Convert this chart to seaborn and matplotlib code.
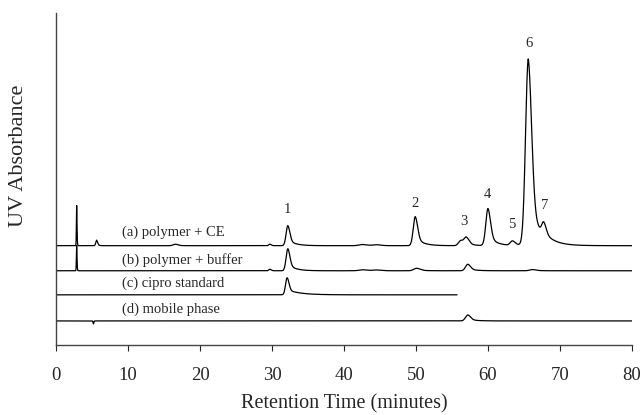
import numpy as np
import pandas as pd
import matplotlib
matplotlib.use('Agg')
import matplotlib.pyplot as plt
import seaborn as sns

# --- Peak tables (minutes, height, rise width, tail) ---
a_centers = [2.87, 5.65, 16.6, 29.7, 32.2, 42.6, 44.5, 49.9, 56.2, 57.0, 60.0, 63.4, 65.6, 67.75]
a_heights = [40, 5.5, 1.5, 1.5, 20, 1.2, 1.0, 29, 5, 8, 37, 4.5, 186, 13]
a_widths = [0.04, 0.12, 0.3, 0.15, 0.24, 0.5, 0.5, 0.28, 0.3, 0.32, 0.3, 0.3, 0.38, 0.28]
a_tails = [0.05, 0.2, 0.5, 0.3, 1.0, 0.8, 0.8, 1.0, 0.6, 0.9, 1.0, 1.2, 1.3, 1.8]

b_centers = [2.87, 29.7, 32.2, 42.6, 44.5, 50.1, 57.2, 66.2]
b_heights = [25, 1.5, 22, 1.0, 0.8, 2.5, 6.5, 1.2]
b_widths = [0.04, 0.15, 0.24, 0.5, 0.5, 0.4, 0.32, 0.4]
b_tails = [0.05, 0.3, 1.0, 0.8, 0.8, 1.0, 1.0, 1.0]

c_centers = [32.1]
c_heights = [17]
c_widths = [0.22]
c_tails = [1.8]
c_end = 55.7

d_centers = [5.2, 57.2]
d_heights = [-3, 6]
d_widths = [0.05, 0.32]
d_tails = [0.05, 1.0]

offsets = {'a': 99, 'b': 74, 'c': 50, 'd': 24}

trace_labels = ['(a) polymer + CE', '(b) polymer + buffer', '(c) cipro standard', '(d) mobile phase']
label_y = [112, 85, 62, 36]

peak_numbers = ['1', '2', '3', '4', '5', '6', '7']
peak_num_x = [32.2, 49.9, 56.6, 59.9, 63.3, 65.7, 67.9]
peak_num_y = [135, 141, 123, 150, 120, 301, 139]

xticks = [0, 10, 20, 30, 40, 50, 60, 70, 80]


def peak(t, c, h, s, tau):
    d = t - c
    left = np.exp(-0.5 * (d / s) ** 2)
    right = 0.7 * np.exp(-0.5 * (d / (1.2 * s)) ** 2) + 0.3 * np.exp(-np.clip(d, 0, None) / tau)
    return h * np.where(d < 0, left, right)


def trace(t, centers, heights, widths, tails):
    y = np.zeros_like(t)
    for c, h, s, tau in zip(centers, heights, widths, tails):
        y += peak(t, c, h, s, tau)
    return y


t = np.linspace(0, 80, 8001)
frames = []
for key, tab in [('a', (a_centers, a_heights, a_widths, a_tails)),
                 ('b', (b_centers, b_heights, b_widths, b_tails)),
                 ('c', (c_centers, c_heights, c_widths, c_tails)),
                 ('d', (d_centers, d_heights, d_widths, d_tails))]:
    y = trace(t, *tab) + offsets[key]
    df = pd.DataFrame({'time': t, 'signal': y, 'trace': key})
    if key == 'c':
        df = df[df['time'] <= c_end]
    frames.append(df)
data = pd.concat(frames, ignore_index=True)

# --- Style ---
sns.set_style('ticks')
plt.rcParams['font.family'] = ['Liberation Serif', 'DejaVu Serif']

fig = plt.figure(figsize=(6.43, 4.15), dpi=100)
ax = fig.add_axes([0.0871, 0.1687, 0.8958, 0.8000])

sns.lineplot(data=data, x='time', y='signal', units='trace', estimator=None,
             color='black', linewidth=0.9, ax=ax)

for txt, yy in zip(trace_labels, label_y):
    ax.text(9.2, yy, txt, fontsize=10.5, va='center', ha='left')
for txt, xx, yy in zip(peak_numbers, peak_num_x, peak_num_y):
    ax.text(xx, yy, txt, fontsize=10.5, va='center', ha='center')

ax.set_xlim(0, 80)
ax.set_ylim(0, 331)
ax.set_xticks(xticks)
ax.set_xticklabels([str(v) for v in xticks], fontsize=13.5)
ax.set_yticks([])
ax.tick_params(axis='x', direction='out', length=4, width=0.8, pad=12)
ax.set_xlabel('Retention Time (minutes)', fontsize=14.5, labelpad=7)
ax.set_ylabel('UV Absorbance', fontsize=16)
ax.yaxis.set_label_coords(-0.048, 0.57)
for side in ['top', 'right']:
    ax.spines[side].set_visible(False)
for side in ['left', 'bottom']:
    ax.spines[side].set_color('#444444')
    ax.spines[side].set_linewidth(1.0)

fig.savefig('out.png', dpi=100)
